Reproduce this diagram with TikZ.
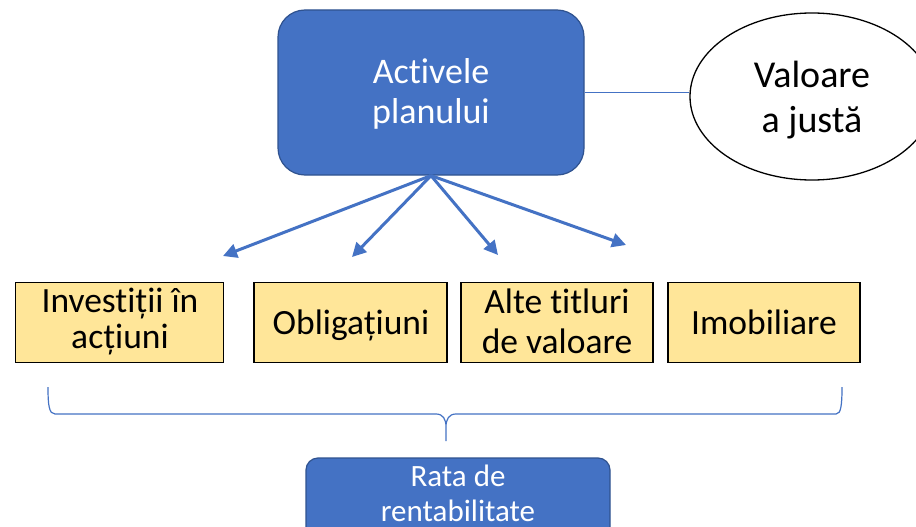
\documentclass[tikz,border=0pt]{standalone}
\usepackage{fontspec}
\setmainfont{Carlito}[Ligatures=NoCommon]
\usetikzlibrary{shapes.geometric,arrows.meta}
\definecolor{pblue}{HTML}{4472C4}
\definecolor{pbluedark}{HTML}{2F528F}
\definecolor{pyellow}{HTML}{FFE699}
\tikzset{
  bluebox/.style={draw=pbluedark, line width=1.2pt, fill=pblue, rounded corners=27pt, inner sep=0pt},
  ratabox/.style={draw=pbluedark, line width=1.2pt, fill=pblue, rounded corners=12pt, inner sep=0pt},
  yelbox/.style={draw=black, line width=1.8pt, fill=pyellow, inner sep=0pt},
  ovalnode/.style={draw=black, line width=1.3pt, fill=white, ellipse, inner sep=0pt},
  wlab/.style={text=white, anchor=base, inner sep=0pt},
  blab/.style={text=black, anchor=base, inner sep=0pt},
  fanarrow/.style={draw=pblue, line width=3pt, -{Triangle[length=14pt,width=14pt]}},
  thinline/.style={draw=pblue, line width=1.3pt},
}
\begin{document}
\begin{tikzpicture}[x=1pt,y=-1pt]
\useasboundingbox (0,0) rectangle (916,527);
\fill[white] (0,0) rectangle (916,527);

% top box
\node[bluebox, minimum width=306pt, minimum height=165pt] (top) at (431,92.5) {};
\node[wlab, font=\fontsize{36}{40}\selectfont] (topa) at (431,84) {Activele};
\node[wlab, font=\fontsize{36}{40}\selectfont] (topb) at (431,124) {planului};

% ellipse
\node[ovalnode, minimum width=244pt, minimum height=167pt] (ell) at (812,96.5) {};
\node[blab, font=\fontsize{38}{44}\selectfont] (ella) at (812,88) {Valoare};
\node[blab, font=\fontsize{38}{44}\selectfont] (ellb) at (812,132) {a justă};

\draw[thinline] (top.east) -- (top.east -| ell.west);

% arrow ends
\coordinate (e1) at (223,256);
\coordinate (e2) at (352,257);
\coordinate (e3) at (498,255);
\coordinate (e4) at (626,245);
\foreach \e in {e1,e2,e3,e4} \draw[fanarrow] (top.south) -- (\e);

% yellow boxes
\node[yelbox, minimum width=208pt, minimum height=80pt] (b1) at (119.5,322.5) {};
\node[yelbox, minimum width=193pt, minimum height=80pt] (b2) at (350.5,322.5) {};
\node[yelbox, minimum width=192pt, minimum height=80pt] (b3) at (557,322.5) {};
\node[yelbox, minimum width=192pt, minimum height=80pt] (b4) at (764,322.5) {};
\tikzset{yf/.style={blab, font=\fontsize{35.5}{37}\selectfont}}
\node[yf] (b1a) at (120,312) {Investiții în};
\node[yf] (b1b) at (120,348) {acțiuni};
\node[yf] (b2a) at (351,334) {Obligațiuni};
\node[yf] (b3a) at (557,313) {Alte titluri};
\node[yf] (b3b) at (557,353) {de valoare};
\node[yf] (b4a) at (764,334) {Imobiliare};

% brace
\draw[thinline, line width=1.2pt] (48,387) .. controls (48,405) and (49,414) .. (55,414)
  -- (436,414) .. controls (443,414) and (446,419) .. (446,427) -- (446,441)
  -- (446,427) .. controls (446,419) and (449,414) .. (456,414)
  -- (836,414) .. controls (841,414) and (842,405) .. (842,387);

% bottom box
\node[ratabox, minimum width=304pt, minimum height=90pt] (rata) at (458,503) {};
\node[wlab, font=\fontsize{31}{37}\selectfont] (ratab) at (458,486) {Rata de};
\node[wlab, font=\fontsize{31}{37}\selectfont] (ratac) at (458,521) {rentabilitate};
\end{tikzpicture}
\end{document}
